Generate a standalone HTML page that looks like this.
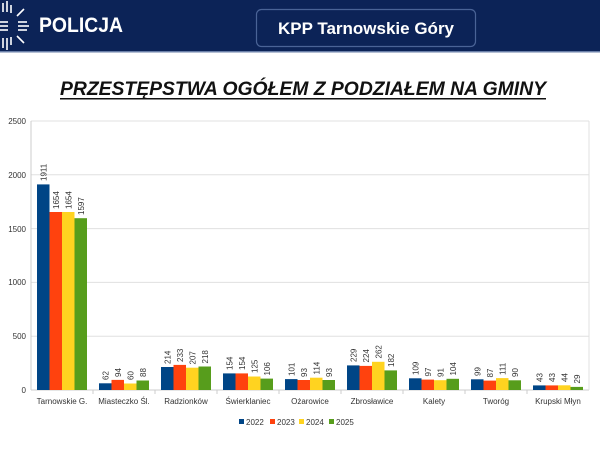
<!DOCTYPE html>
<html><head><meta charset="utf-8"><style>
body{margin:0;width:600px;height:450px;overflow:hidden;background:#fff;font-family:"Liberation Sans",sans-serif}
</style></head><body>
<svg width="600" height="450" xmlns="http://www.w3.org/2000/svg" font-family="Liberation Sans, sans-serif">
<rect x="0" y="0" width="600" height="51" fill="#0c2357"/>
<rect x="0" y="51" width="600" height="1.5" fill="#6a7fa8"/>
<g stroke="#fff" stroke-width="1.6">
<line x1="3" y1="3" x2="3" y2="12"/><line x1="7" y1="1" x2="7" y2="12"/><line x1="11" y1="5" x2="11" y2="13"/>
<line x1="3" y1="38" x2="3" y2="48"/><line x1="7" y1="38" x2="7" y2="50"/><line x1="11" y1="37" x2="11" y2="45"/>
<line x1="0" y1="22" x2="8" y2="22"/><line x1="0" y1="26" x2="8" y2="26"/><line x1="0" y1="30" x2="8" y2="30"/>
<line x1="18" y1="22" x2="27" y2="22"/><line x1="18" y1="26" x2="29" y2="26"/><line x1="18" y1="30" x2="27" y2="30"/>
<line x1="17" y1="16" x2="24" y2="9"/><line x1="17" y1="36" x2="24" y2="43"/>
</g>
<text x="39" y="32" fill="#fff" font-size="21" font-weight="bold" textLength="84" lengthAdjust="spacingAndGlyphs">POLICJA</text>
<rect x="256.5" y="9.5" width="219" height="37" rx="5" fill="none" stroke="#4a6396" stroke-width="1.2"/>
<text x="366" y="34" fill="#fff" font-size="17" font-weight="bold" text-anchor="middle">KPP Tarnowskie Góry</text>
<text x="60" y="95" font-size="19.5" font-weight="bold" font-style="italic" fill="#111" textLength="486" lengthAdjust="spacingAndGlyphs">PRZESTĘPSTWA OGÓŁEM Z PODZIAŁEM NA GMINY</text>
<rect x="60" y="98" width="486" height="1.5" fill="#111"/>
<g stroke="#e0e0e0" stroke-width="1">
<line x1="31" y1="121" x2="589" y2="121"/><line x1="31" y1="174.8" x2="589" y2="174.8"/><line x1="31" y1="228.6" x2="589" y2="228.6"/><line x1="31" y1="282.4" x2="589" y2="282.4"/><line x1="31" y1="336.2" x2="589" y2="336.2"/>
<line x1="31" y1="390" x2="589" y2="390" stroke="#ccc"/>
<line x1="31" y1="121" x2="31" y2="390" stroke="#ccc"/>
<line x1="589" y1="121" x2="589" y2="390"/>
</g>
<g stroke="#ccc"><line x1="93" y1="390" x2="93" y2="394"/><line x1="155" y1="390" x2="155" y2="394"/><line x1="217" y1="390" x2="217" y2="394"/><line x1="279" y1="390" x2="279" y2="394"/><line x1="341" y1="390" x2="341" y2="394"/><line x1="403" y1="390" x2="403" y2="394"/><line x1="465" y1="390" x2="465" y2="394"/><line x1="527" y1="390" x2="527" y2="394"/></g>
<g font-size="8" fill="#333" text-anchor="end">
<text x="26" y="124">2500</text><text x="26" y="178">2000</text><text x="26" y="232">1500</text><text x="26" y="285">1000</text><text x="26" y="339">500</text><text x="26" y="393">0</text>
</g>
<g font-size="8" fill="#333" text-anchor="middle">
<text x="62" y="404">Tarnowskie G.</text><text x="124" y="404">Miasteczko Śl.</text><text x="186" y="404">Radzionków</text><text x="248" y="404">Świerklaniec</text><text x="310" y="404">Ożarowice</text><text x="372" y="404">Zbrosławice</text><text x="434" y="404">Kalety</text><text x="496" y="404">Tworóg</text><text x="558" y="404">Krupski Młyn</text>
</g>
<g font-size="8" fill="#333">
<rect x="239" y="419" width="5" height="5" fill="#004586"/><text x="246" y="425">2022</text>
<rect x="270" y="419" width="5" height="5" fill="#ff420e"/><text x="277" y="425">2023</text>
<rect x="299" y="419" width="5" height="5" fill="#ffd320"/><text x="306" y="425">2024</text>
<rect x="329" y="419" width="5" height="5" fill="#579d1c"/><text x="336" y="425">2025</text>
</g>
<g font-size="8" fill="#333">
<g transform="translate(37,0)">
<rect x="0" y="184.4" width="12.5" height="205.6" fill="#004586"/><rect x="12.5" y="212" width="12.5" height="178" fill="#ff420e"/><rect x="25" y="212" width="12.5" height="178" fill="#ffd320"/><rect x="37.5" y="218.2" width="12.5" height="171.8" fill="#579d1c"/>
<text transform="translate(9.5,181) rotate(-90)">1911</text><text transform="translate(22,209) rotate(-90)">1654</text><text transform="translate(34.5,209) rotate(-90)">1654</text><text transform="translate(47,215) rotate(-90)">1597</text>
</g>
<g transform="translate(99,0)">
<rect x="0" y="383.3" width="12.5" height="6.7" fill="#004586"/><rect x="12.5" y="379.9" width="12.5" height="10.1" fill="#ff420e"/><rect x="25" y="383.5" width="12.5" height="6.5" fill="#ffd320"/><rect x="37.5" y="380.5" width="12.5" height="9.5" fill="#579d1c"/>
<text transform="translate(9.5,380) rotate(-90)">62</text><text transform="translate(22,377) rotate(-90)">94</text><text transform="translate(34.5,380) rotate(-90)">60</text><text transform="translate(47,377) rotate(-90)">88</text>
</g>
<g transform="translate(161,0)">
<rect x="0" y="367" width="12.5" height="23" fill="#004586"/><rect x="12.5" y="364.9" width="12.5" height="25.1" fill="#ff420e"/><rect x="25" y="367.7" width="12.5" height="22.3" fill="#ffd320"/><rect x="37.5" y="366.5" width="12.5" height="23.5" fill="#579d1c"/>
<text transform="translate(9.5,364) rotate(-90)">214</text><text transform="translate(22,362) rotate(-90)">233</text><text transform="translate(34.5,364.5) rotate(-90)">207</text><text transform="translate(47,363.5) rotate(-90)">218</text>
</g>
<g transform="translate(223,0)">
<rect x="0" y="373.4" width="12.5" height="16.6" fill="#004586"/><rect x="12.5" y="373.4" width="12.5" height="16.6" fill="#ff420e"/><rect x="25" y="376.5" width="12.5" height="13.5" fill="#ffd320"/><rect x="37.5" y="378.6" width="12.5" height="11.4" fill="#579d1c"/>
<text transform="translate(9.5,370) rotate(-90)">154</text><text transform="translate(22,370) rotate(-90)">154</text><text transform="translate(34.5,373) rotate(-90)">125</text><text transform="translate(47,375.5) rotate(-90)">106</text>
</g>
<g transform="translate(285,0)">
<rect x="0" y="379.1" width="12.5" height="10.9" fill="#004586"/><rect x="12.5" y="380" width="12.5" height="10" fill="#ff420e"/><rect x="25" y="377.7" width="12.5" height="12.3" fill="#ffd320"/><rect x="37.5" y="380" width="12.5" height="10" fill="#579d1c"/>
<text transform="translate(9.5,376) rotate(-90)">101</text><text transform="translate(22,377) rotate(-90)">93</text><text transform="translate(34.5,374.5) rotate(-90)">114</text><text transform="translate(47,377) rotate(-90)">93</text>
</g>
<g transform="translate(347,0)">
<rect x="0" y="365.4" width="12.5" height="24.6" fill="#004586"/><rect x="12.5" y="365.9" width="12.5" height="24.1" fill="#ff420e"/><rect x="25" y="361.8" width="12.5" height="28.2" fill="#ffd320"/><rect x="37.5" y="370.4" width="12.5" height="19.6" fill="#579d1c"/>
<text transform="translate(9.5,362) rotate(-90)">229</text><text transform="translate(22,362.5) rotate(-90)">224</text><text transform="translate(34.5,358.5) rotate(-90)">262</text><text transform="translate(47,367) rotate(-90)">182</text>
</g>
<g transform="translate(409,0)">
<rect x="0" y="378.3" width="12.5" height="11.7" fill="#004586"/><rect x="12.5" y="379.6" width="12.5" height="10.4" fill="#ff420e"/><rect x="25" y="380.2" width="12.5" height="9.8" fill="#ffd320"/><rect x="37.5" y="378.8" width="12.5" height="11.2" fill="#579d1c"/>
<text transform="translate(9.5,375) rotate(-90)">109</text><text transform="translate(22,376.5) rotate(-90)">97</text><text transform="translate(34.5,377) rotate(-90)">91</text><text transform="translate(47,375.5) rotate(-90)">104</text>
</g>
<g transform="translate(471,0)">
<rect x="0" y="379.3" width="12.5" height="10.7" fill="#004586"/><rect x="12.5" y="380.6" width="12.5" height="9.4" fill="#ff420e"/><rect x="25" y="378.1" width="12.5" height="11.9" fill="#ffd320"/><rect x="37.5" y="380.3" width="12.5" height="9.7" fill="#579d1c"/>
<text transform="translate(9.5,376) rotate(-90)">99</text><text transform="translate(22,377.5) rotate(-90)">87</text><text transform="translate(34.5,375) rotate(-90)">111</text><text transform="translate(47,377) rotate(-90)">90</text>
</g>
<g transform="translate(533,0)">
<rect x="0" y="385.4" width="12.5" height="4.6" fill="#004586"/><rect x="12.5" y="385.4" width="12.5" height="4.6" fill="#ff420e"/><rect x="25" y="385.3" width="12.5" height="4.7" fill="#ffd320"/><rect x="37.5" y="386.9" width="12.5" height="3.1" fill="#579d1c"/>
<text transform="translate(9.5,382) rotate(-90)">43</text><text transform="translate(22,382) rotate(-90)">43</text><text transform="translate(34.5,382) rotate(-90)">44</text><text transform="translate(47,383.5) rotate(-90)">29</text>
</g>
</g>
</svg>
</body></html>
